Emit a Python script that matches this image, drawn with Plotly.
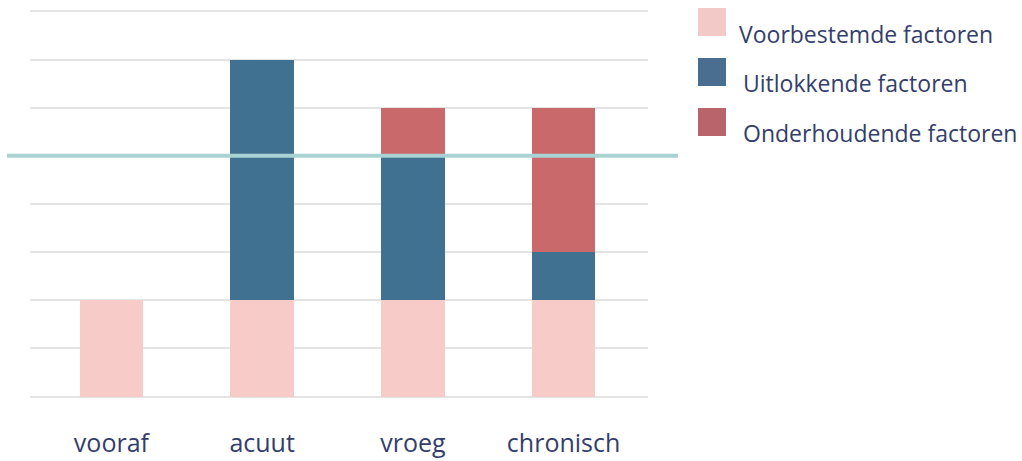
import plotly.graph_objects as go

categories = ["vooraf", "acuut", "vroeg", "chronisch"]
voorbestemde = [2, 2, 2, 2]
uitlokkende = [0, 5, 3, 1]
onderhoudende = [0, 0, 1, 3]
threshold = 5

series_names = ["Voorbestemde factoren", "Uitlokkende factoren", "Onderhoudende factoren"]
bar_colors = ["#f6cbc8", "#417191", "#c9696b"]
legend_colors = ["#f2c9c7", "#4a6e8f", "#b9646a"]

fig = go.Figure()
for name, vals, col in zip(series_names, [voorbestemde, uitlokkende, onderhoudende], bar_colors):
    fig.add_trace(go.Bar(x=categories, y=vals, name=name, marker_color=col,
                         marker_line_width=0, width=0.42, showlegend=False))

W, H = 1022, 461
ml, mr, mt, mb = 30, 374, 10, 63
pw = W - ml - mr
ph = H - mt - mb

fig.update_layout(
    barmode="stack",
    width=W, height=H,
    margin=dict(l=ml, r=mr, t=mt, b=mb, autoexpand=False),
    paper_bgcolor="white", plot_bgcolor="white",
    font=dict(family="Open Sans", color="#343e6c"),
    xaxis=dict(range=[-0.54, 3.56], showgrid=False, zeroline=False, showline=False,
               automargin=False,
               tickfont=dict(size=25, color="#343e6c"), ticks="", ticklabelstandoff=28),
    yaxis=dict(range=[-0.03, 8.03], dtick=1, tick0=0, showticklabels=False, showgrid=True,
               automargin=False,
               gridcolor="#e4e4e4", gridwidth=2, zeroline=True, zerolinecolor="#e4e4e4",
               zerolinewidth=2, showline=False),
)

# threshold line
fig.add_shape(type="line", xref="paper", yref="y",
              x0=(7 - ml) / pw, x1=(678 - ml) / pw, y0=threshold, y1=threshold,
              line=dict(color="#a9d3d2", width=4), layer="above")

# manual legend
rows_y = [22, 72, 122]
text_y = [34, 83, 133]
text_x = [737, 741, 741]
for i, (name, col) in enumerate(zip(series_names, legend_colors)):
    y = rows_y[i]
    fig.add_shape(type="rect", xref="paper", yref="paper",
                  x0=(698 - ml) / pw, x1=(726 - ml) / pw,
                  y0=(H - mb - (y + 14)) / ph, y1=(H - mb - (y - 14)) / ph,
                  fillcolor=col, line=dict(width=0))
    fig.add_annotation(xref="paper", yref="paper",
                       x=(text_x[i] - ml) / pw, y=(H - mb - text_y[i]) / ph,
                       text=name, showarrow=False, xanchor="left", yanchor="middle",
                       font=dict(size=23, color="#343e6c", family="Open Sans"))

fig.write_html("out.html")
